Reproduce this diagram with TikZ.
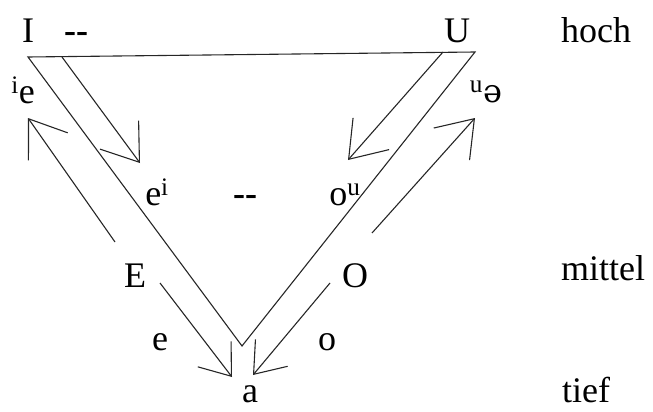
\documentclass[tikz,border=0pt]{standalone}
\usepackage{fontspec}
\setmainfont{Liberation Serif}
\newfontfamily\schwafont{DejaVu Serif}
\usetikzlibrary{arrows.meta}
\begin{document}
\begin{tikzpicture}[x=1pt,y=-1pt,
  ln/.style={line width=1.1pt, black!85},
  arr/.style={ln, -{Straight Barb[length=34pt,width=48pt]}},
  sarr/.style={ln, -{Straight Barb[length=28pt,width=42pt]}},
  lab/.style={anchor=base, inner sep=0pt, font=\fontsize{36}{40}\selectfont},
  side/.style={lab, anchor=base west}]
\useasboundingbox (0,0) rectangle (653,412);
% corners of the triangle
\coordinate (tl) at (28,57);
\coordinate (tr) at (475,52);
\coordinate (apex) at (242,346);
% arrow end points
\coordinate (li0) at (62,57);   \coordinate (li1) at (140,163);
\coordinate (ri0) at (443,52);  \coordinate (ri1) at (348,160);
\coordinate (lo0) at (115,242); \coordinate (lo1) at (28,118);
\coordinate (ro0) at (372,233); \coordinate (ro1) at (475,118);
\coordinate (ea0) at (160,283); \coordinate (ea1) at (232,377);
\coordinate (oa0) at (330,283); \coordinate (oa1) at (253,375);
% labels
\node[lab] (I) at (28,43) {I};
\node[lab] (d1) at (76,43) {\bfseries -{}-};
\node[lab] (U) at (457,43) {U};
\node[side] (hoch) at (561,43) {hoch};
\node[lab] (ie) at (23,103) {\textsuperscript{i}e};
\node[lab] (ei) at (157,205) {e\textsuperscript{i}};
\node[lab] (d2) at (245,205) {\bfseries -{}-};
\node[lab] (ou) at (345,205) {o\textsuperscript{u}};
\node[lab] (ue) at (486,102) {\textsuperscript{u}{\schwafont\fontsize{32}{40}\selectfont ə}};
\node[lab] (E) at (135,287) {E};
\node[lab] (O) at (355,287) {O};
\node[side] (mittel) at (561,280) {mittel};
\node[lab] (e) at (160,350) {e};
\node[lab] (o) at (327,350) {o};
\node[lab] (a) at (250,402) {a};
\node[side] (tief) at (562,402) {tief};
% triangle
\draw[ln] (tl) -- (tr) -- (apex) -- cycle;
% arrows
\draw[arr] (li0) -- (li1);
\draw[arr] (ri0) -- (ri1);
\draw[arr] (lo0) -- (lo1);
\draw[arr] (ro0) -- (ro1);
\draw[sarr] (ea0) -- (ea1);
\draw[sarr] (oa0) -- (oa1);
\end{tikzpicture}
\end{document}
